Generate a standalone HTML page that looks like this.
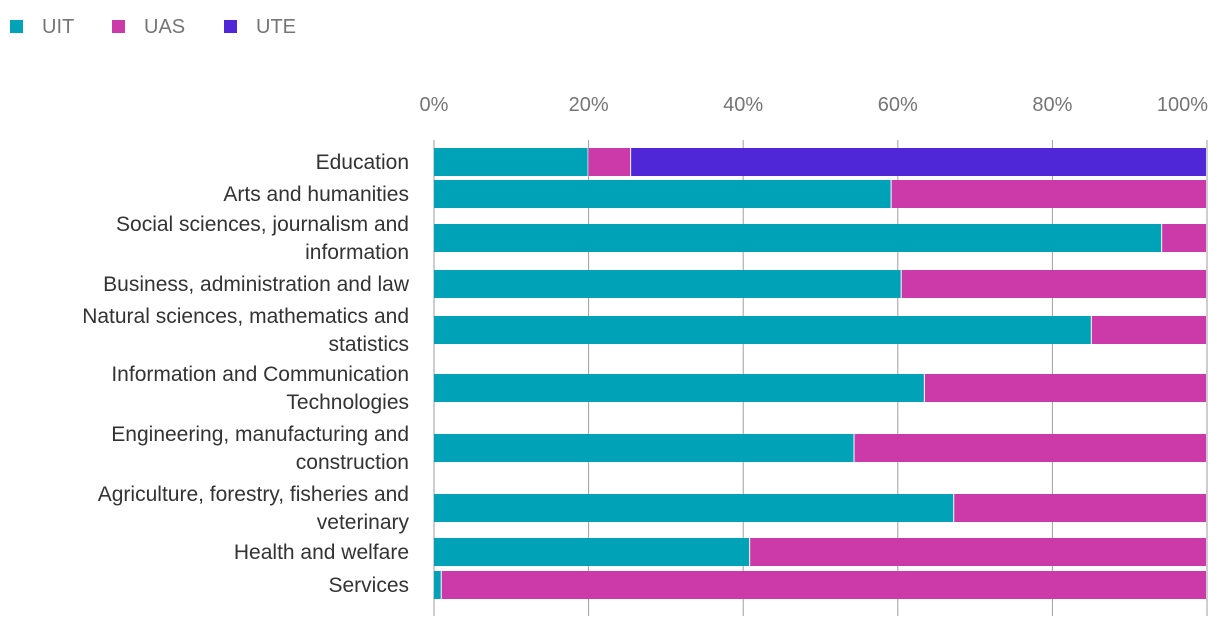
<!DOCTYPE html>
<html><head><meta charset="utf-8">
<style>
body{margin:0;background:#fff;width:1220px;height:630px;overflow:hidden;font-family:"Liberation Sans",sans-serif;}
</style></head>
<body>
<svg id="chart" width="1220" height="630" xmlns="http://www.w3.org/2000/svg"></svg>
<script>
const categories=[["Education"],["Arts and humanities"],["Social sciences, journalism and","information"],["Business, administration and law"],["Natural sciences, mathematics and","statistics"],["Information and Communication","Technologies"],["Engineering, manufacturing and","construction"],["Agriculture, forestry, fisheries and","veterinary"],["Health and welfare"],["Services"]];
const seriesNames=["UIT","UAS","UTE"];
const uit=[20,59.2,94.2,60.5,85.1,63.5,54.4,67.3,40.9,1.0];
const uas=[5.5,40.8,5.8,39.5,14.9,36.5,45.6,32.7,59.1,99.0];
const ute=[74.5,0,0,0,0,0,0,0,0,0];
const tickLabels=["0%","20%","40%","60%","80%","100%"];
const tickValues=[0,20,40,60,80,100];
</script>
<script>
const NS="http://www.w3.org/2000/svg";
const svg=document.getElementById('chart');
const colors=["#00a2b8","#cc3aa9","#4f27d6"];
const x0=434,x1=1207;
function xs(v){return x0+(x1-x0)*v/100;}
const barY=[148,180,224,270,316,374,434,494,538,571];
const barH=28;
function mk(t,a){const e=document.createElementNS(NS,t);for(const k in a)e.setAttribute(k,a[k]);svg.appendChild(e);return e;}
const legX=[10,112,224];
seriesNames.forEach((n,i)=>{
  const r=mk('rect',{x:legX[i],y:20,width:13,height:13,fill:colors[i]});
  
  
  const t=mk('text',{x:legX[i]+32,y:33,'font-size':20,fill:'#757575'});
  t.textContent=n;
  
  
});
tickValues.forEach((v,i)=>{
  const l=mk('line',{x1:xs(v),x2:xs(v),y1:140,y2:616,stroke:'#9e9e9e','stroke-width':1});
  
  
  const last=i===tickValues.length-1;
  const t=mk('text',{x:last?xs(v)+1:xs(v),y:111,'font-size':20,fill:'#757575','text-anchor':last?'end':'middle'});
  t.textContent=tickLabels[i];
  
  
});
const series=[uit,uas,ute];
categories.forEach((c,i)=>{
  let acc=0;
  const y=barY[i];
  series.forEach((s,j)=>{
    const v=s[i];if(v<=0)return;
    const xa=xs(acc),xb=xs(acc+v);
    const r=mk('rect',{x:xa,y:y,width:Math.max(0,xb-xa-1),height:barH,fill:colors[j]});
    
    
    acc+=v;
  });
  const cy=y+barH/2+7;
  c.forEach((ln,k)=>{
    const yy=c.length==1?cy:cy-14+k*28;
    const t=mk('text',{x:409,y:yy,'font-size':21,fill:'#333','text-anchor':'end'});
    t.textContent=ln;
    
    
  });
});
</script>
</body></html>
